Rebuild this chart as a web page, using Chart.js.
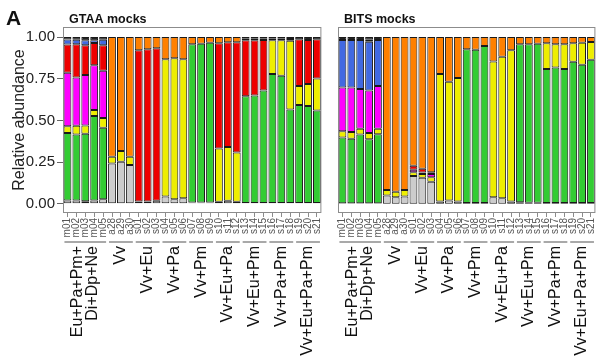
<!DOCTYPE html>
<html>
<head>
<meta charset="utf-8">
<script src="https://cdn.jsdelivr.net/npm/chart.js@4.4.0/dist/chart.umd.min.js"></script>
<style>
  body { margin: 0; background: #fff; }
  #wrap { position: relative; width: 604px; height: 356px; overflow: hidden; }
  #c1 { position: absolute; left: 0; top: 0; }
  #c2 { position: absolute; left: 330px; top: 0; }
</style>
</head>
<body>
<div id="wrap">
  <canvas id="c1" width="330" height="356"></canvas>
  <canvas id="c2" width="274" height="356"></canvas>
</div>
<script>
// sample labels on the x axis
const samples = ["m01","m02","m03","m04","m05","a28","a29","a30",
  "s01","s02","s03","s04","s05","s06","s07","s08","s09","s10","s11",
  "s12","s13","s14","s15","s16","s17","s18","s19","s20","s21"];

// mock groups: label lines, first and last sample index
const groupNames = [["Eu+Pa+Pm+","Di+Dp+Ne"],["Vv"],["Vv+Eu"],["Vv+Pa"],["Vv+Pm"],
  ["Vv+Eu+Pa"],["Vv+Eu+Pm"],["Vv+Pa+Pm"],["Vv+Eu+Pa+Pm"]];
const groupStart = [0, 5, 8, 11, 14, 17, 20, 23, 26];
const groupEnd   = [4, 7, 10, 13, 16, 19, 22, 25, 28];

const yTicks = [0, 0.25, 0.5, 0.75, 1];

// taxa, bottom to top of each bar
const taxa = ["unassigned","green","yellow","magenta","red","blue","orange","other"];
const taxaColors = ["#cccccc","#33cc33","#eeee00","#ff00ff","#ee0000","#4169e1","#ff8000","#222222"];

// GTAA mocks
const gGrey    = [.02,.02,.016,.02,.028,.242,.252,.232,.014,.014,.018,.044,.028,.034,.008,.008,.008,.012,.018,.012,.005,.005,.005,.005,.005,.005,.005,.005,.005];
const gGreen   = [.405,.395,.404,.506,.428,0,0,0,0,0,0,0,0,0,.948,.952,.958,0,0,0,.64,.644,.674,.773,.763,.56,.588,.582,.555];
const gYellow  = [.04,.053,.05,.037,.058,.04,.065,.05,0,0,0,.823,.845,.833,0,0,0,.319,.323,.296,0,0,0,.202,.212,.413,.113,.131,.192];
const gMagenta = [.32,.29,.302,.267,.284,0,0,0,0,0,0,0,0,0,0,0,0,0,0,0,0,0,0,0,0,0,0,0,0];
const gRed     = [.17,.198,.178,.134,.152,0,0,0,.906,.913,.914,0,0,0,0,0,0,.631,.627,.66,.335,.331,.303,0,0,0,.28,.264,.234];
const gBlue    = [.03,.028,.03,.016,.034,0,0,0,0,0,0,0,0,0,0,0,0,0,0,0,0,0,0,0,0,0,0,0,0];
const gOrange  = [0,0,0,0,0,.718,.683,.718,.08,.073,.068,.133,.127,.133,.044,.04,.034,.038,.032,.032,.01,.01,.01,.01,.01,.01,0,0,0];
const gOther   = [.015,.016,.02,.02,.016,0,0,0,0,0,0,0,0,0,0,0,0,0,0,0,.01,.01,.008,.01,.01,.012,.014,.018,.014];

// BITS mocks
const bGrey    = [.004,.004,.004,.004,.004,.05,.04,.044,.167,.157,.133,.014,.02,.014,.005,.005,.005,.04,.034,.014,.01,.006,.006,.005,.005,.005,.005,.005,.005];
const bGreen   = [.393,.386,.411,.383,.413,0,0,0,0,0,0,0,0,0,.922,.918,.941,0,0,0,.946,.95,.954,.803,.812,.803,.846,.828,.858];
const bYellow  = [.038,.04,.035,.038,.033,.033,.033,.039,.023,.022,.026,.764,.712,.74,0,0,0,.813,.847,.907,0,0,0,.154,.139,.148,.111,.133,.107];
const bMagenta = [.263,.268,.238,.254,.256,0,0,0,.015,.009,.02,0,0,0,0,0,0,0,0,0,0,0,0,0,0,0,0,0,0];
const bRed     = [0,0,0,0,0,0,0,0,.023,.022,.011,0,0,0,0,0,0,0,0,0,0,0,0,0,0,0,0,0,0];
const bBlue    = [.284,.284,.294,.293,.276,0,0,0,0,0,0,0,0,0,0,0,0,0,0,0,0,0,0,0,0,0,0,0,0];
const bOrange  = [0,0,0,.012,0,.917,.927,.917,.772,.79,.81,.222,.268,.246,.073,.077,.054,.147,.119,.079,.044,.044,.04,.038,.044,.044,.038,.034,.03];
const bOther   = [.018,.018,.018,.016,.018,0,0,0,0,0,0,0,0,0,0,0,0,0,0,0,0,0,0,0,0,0,0,0,0];

const FONT = "'Liberation Sans', Arial, Helvetica, sans-serif";
Chart.defaults.font.family = FONT;

function makeDatasets(series) {
  return series.map((vals, i) => ({
    label: taxa[i],
    data: vals,
    backgroundColor: taxaColors[i],
    borderColor: "#1a1a1a",
    borderWidth: 1,
    borderSkipped: false,
    barPercentage: 0.88,
    categoryPercentage: 1.0
  }));
}

// box, panel title and group labels under the x axis
function panelPlugin(title, showA) {
  return {
    id: "panel",
    afterDraw(chart) {
      const ctx = chart.ctx;
      const a = chart.chartArea;
      const x = chart.scales.x;
      ctx.save();
      ctx.strokeStyle = "#8c8c8c";
      ctx.lineWidth = 1;
      ctx.strokeRect(a.left + 0.5, a.top + 0.5, a.right - a.left - 1, a.bottom - a.top - 1);

      ctx.fillStyle = "#111";
      ctx.textBaseline = "alphabetic";
      ctx.textAlign = "left";
      ctx.font = "bold 12.5px " + FONT;
      ctx.fillText(title, a.left + 6, 23);
      if (showA) {
        ctx.font = "bold 21px " + FONT;
        ctx.fillText("A", 6, 25);
      }

      for (let g = 0; g < groupNames.length; g++) {
        const x0 = x.getPixelForValue(groupStart[g]) - 3;
        const x1 = x.getPixelForValue(groupEnd[g]) + 3;
        ctx.strokeStyle = "#8c8c8c";
        ctx.lineWidth = 1.5;
        ctx.beginPath();
        ctx.moveTo(x0, 242);
        ctx.lineTo(x1, 242);
        ctx.stroke();

        const lines = groupNames[g];
        const cx = (x0 + x1) / 2;
        ctx.fillStyle = "#111";
        ctx.font = "16px " + FONT;
        ctx.textAlign = "right";
        ctx.textBaseline = "middle";
        lines.forEach((t, k) => {
          const off = (k - (lines.length - 1) / 2) * 15;
          ctx.save();
          ctx.translate(cx + off, 246);
          ctx.rotate(-Math.PI / 2);
          ctx.fillText(t, 0, 0);
          ctx.restore();
        });
      }
      ctx.restore();
    }
  };
}

function makeChart(id, series, title, left) {
  return new Chart(document.getElementById(id), {
    type: "bar",
    data: { labels: samples, datasets: makeDatasets(series) },
    options: {
      responsive: false,
      animation: false,
      layout: { padding: { top: 27, right: left ? 4 : 2, left: left ? 0 : 8, bottom: 0 } },
      plugins: { legend: { display: false }, tooltip: { enabled: false } },
      scales: {
        x: {
          stacked: true,
          offset: true,
          afterFit(scale) { scale.height = 143; },
          grid: { offset: false, drawOnChartArea: false, drawTicks: true, tickLength: 4, color: "#8c8c8c" },
          border: { display: false },
          ticks: {
            autoSkip: false, maxRotation: 90, minRotation: 90, padding: 1,
            color: "#555", font: { size: 10 }
          }
        },
        y: {
          display: left,
          stacked: true,
          min: -0.055,
          max: 1.06,
          afterFit(scale) { scale.width = left ? 63 : 0; },
          afterBuildTicks(scale) { scale.ticks = yTicks.map(v => ({ value: v })); },
          grid: { drawOnChartArea: false, drawTicks: true, tickLength: 6, color: "#666" },
          border: { display: false },
          title: {
            display: true, text: "Relative abundance", color: "#222",
            font: { size: 16 }, padding: { top: 10, bottom: 0 }
          },
          ticks: {
            padding: 2, color: "#222", font: { size: 15 },
            callback: v => Number(v).toFixed(2)
          }
        }
      }
    },
    plugins: [panelPlugin(title, left)]
  });
}

makeChart("c1", [gGrey, gGreen, gYellow, gMagenta, gRed, gBlue, gOrange, gOther], "GTAA mocks", true);
makeChart("c2", [bGrey, bGreen, bYellow, bMagenta, bRed, bBlue, bOrange, bOther], "BITS mocks", false);
</script>
</body>
</html>
